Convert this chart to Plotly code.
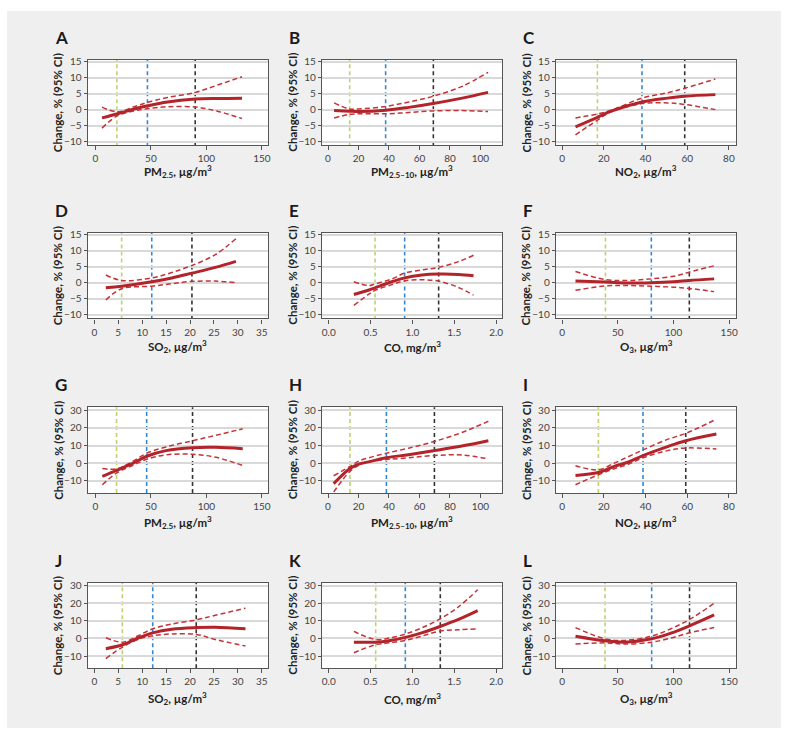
import plotly.graph_objects as go

W, H = 791, 737

# ---------------- data ----------------
letters = list("ABCDEFGHIJKL")
x_titles = [
    "PM<sub>2.5</sub>, µg/m<sup>3</sup>",
    "PM<sub>2.5–10</sub>, µg/m<sup>3</sup>",
    "NO<sub>2</sub>, µg/m<sup>3</sup>",
    "SO<sub>2</sub>, µg/m<sup>3</sup>",
    "CO, mg/m<sup>3</sup>",
    "O<sub>3</sub>, µg/m<sup>3</sup>",
] * 2
y_title = "Change, % (95% CI)"

a_x = [6, 20, 35, 47, 65, 90, 110, 132]
a_est = [-2.6, -1.3, 0.2, 1.2, 2.4, 3.3, 3.5, 3.6]
a_lo = [-5.8, -1.9, -0.4, 0.3, 0.9, 0.8, -0.5, -2.8]
a_hi = [0.8, -0.7, 0.9, 2.3, 3.8, 5.4, 7.7, 10.3]
a_ref = [19.4, 46.9, 89.9]

b_x = [4, 14, 20, 38, 53, 69, 88, 105]
b_est = [-0.3, -0.5, -0.6, -0.2, 0.7, 1.9, 3.6, 5.4]
b_lo = [-2.6, -1.5, -1.3, -1.3, -0.9, -0.4, -0.3, -0.6]
b_hi = [2.1, 0.2, 0.2, 1.0, 2.4, 4.2, 7.3, 11.7]
b_ref = [14.2, 37.8, 69.1]

c_x = [6.4, 17, 23.5, 38.3, 50.6, 58.8, 73.5]
c_est = [-5.4, -2.4, -0.5, 2.4, 3.6, 4.2, 4.7]
c_lo = [-7.9, -3.3, -0.7, 1.9, 2.1, 1.6, 0.0]
c_hi = [-2.6, -1.35, -0.2, 3.6, 5.3, 6.7, 9.6]
c_ref = [16.9, 38.3, 58.8]

d_x = [2.4, 5.7, 12, 16.2, 20.4, 25.3, 29.6]
d_est = [-1.6, -1.1, 0.3, 1.5, 3.0, 4.8, 6.7]
d_lo = [-5.4, -1.9, -1.1, -0.3, 0.4, 0.5, 0.0]
d_hi = [2.4, 0.7, 1.5, 3.2, 5.4, 8.8, 13.8]
d_ref = [5.7, 12.0, 20.4]

e_x = [0.30, 0.48, 0.553, 0.755, 0.907, 1.113, 1.31, 1.55, 1.73]
e_est = [-3.7, -2.3, -1.6, 0.3, 1.5, 2.4, 2.7, 2.6, 2.2]
e_lo = [-7.1, -3.6, -2.4, -0.6, 0.6, 0.9, 0.5, -1.5, -3.9]
e_hi = [0.3, -0.9, -0.4, 1.2, 3.0, 4.0, 4.8, 6.6, 8.6]
e_ref = [0.553, 0.907, 1.313]

f_x = [12, 38.8, 58.9, 80, 100, 114, 136.5]
f_est = [0.5, 0.2, -0.1, 0.0, 0.3, 0.7, 1.2]
f_lo = [-2.4, -1.0, -0.9, -1.1, -1.4, -1.8, -2.8]
f_hi = [3.5, 1.0, 0.7, 1.2, 2.0, 3.3, 5.3]
f_ref = [38.9, 80.1, 114.2]

g_x = [6.3, 19, 34, 46.3, 63.6, 87.5, 108.5, 132.7]
g_est = [-7.6, -4.2, 0.0, 3.9, 7.1, 8.8, 9.0, 8.2]
g_lo = [-12.3, -5.7, -1.2, 2.2, 4.7, 5.0, 3.3, -1.4]
g_hi = [-3.1, -3.3, 1.1, 5.6, 9.2, 12.7, 15.8, 19.5]
g_ref = [19.1, 46.2, 87.5]

h_x = [3.7, 14.4, 20.1, 26.6, 38.2, 52.8, 69.7, 87.8, 105.2]
h_est = [-11.7, -3.1, -0.6, 0.7, 3.0, 4.8, 7.1, 9.7, 12.7]
h_lo = [-16.4, -4.7, -1.2, 0.8, 2.0, 3.0, 4.3, 4.6, 2.4]
h_hi = [-7.2, -1.9, 1.1, 3.0, 5.6, 8.5, 12.3, 17.4, 23.8]
h_ref = [14.4, 38.3, 69.8]

i_x = [6.4, 17.4, 25, 31.5, 38.8, 50.6, 59.3, 74]
i_est = [-7.0, -5.3, -1.9, 0.5, 4.3, 9.4, 12.7, 16.5]
i_lo = [-12.3, -6.6, -3.2, -0.8, 3.0, 7.1, 8.6, 8.0]
i_hi = [-1.5, -3.8, 0.0, 3.5, 7.5, 13.5, 16.9, 25.0]
i_ref = [17.4, 38.8, 59.3]

j_x = [2.4, 5.9, 9.3, 12.2, 16.2, 21.3, 25.3, 31.6]
j_est = [-5.8, -3.6, 0.4, 3.2, 5.3, 6.2, 6.4, 5.5]
j_lo = [-11.5, -4.9, -0.4, 1.5, 2.6, 2.3, -0.6, -4.3]
j_hi = [0.4, -2.1, 1.7, 5.5, 8.2, 10.6, 13.2, 17.2]
j_ref = [5.85, 12.2, 21.3]

k_x = [0.3, 0.56, 0.72, 0.915, 1.11, 1.33, 1.55, 1.78]
k_est = [-2.1, -2.1, -1.3, 0.6, 3.2, 6.8, 10.8, 15.8]
k_lo = [-8.1, -3.6, -2.5, -1.1, 1.3, 4.2, 4.9, 5.5]
k_hi = [4.0, -0.6, 0.2, 2.5, 6.0, 11.1, 18.0, 27.7]
k_ref = [0.561, 0.915, 1.333]

l_x = [12, 38.5, 55.9, 80.4, 97.7, 114.4, 136.5]
l_est = [1.3, -1.3, -2.1, -0.2, 3.0, 7.2, 13.4]
l_lo = [-3.2, -2.5, -3.2, -2.1, 0.2, 3.2, 6.2]
l_hi = [6.2, -0.2, -1.1, 1.3, 5.5, 10.8, 20.0]
l_ref = [38.5, 80.4, 114.4]

panels = [
    (a_x, a_est, a_lo, a_hi, a_ref), (b_x, b_est, b_lo, b_hi, b_ref),
    (c_x, c_est, c_lo, c_hi, c_ref), (d_x, d_est, d_lo, d_hi, d_ref),
    (e_x, e_est, e_lo, e_hi, e_ref), (f_x, f_est, f_lo, f_hi, f_ref),
    (g_x, g_est, g_lo, g_hi, g_ref), (h_x, h_est, h_lo, h_hi, h_ref),
    (i_x, i_est, i_lo, i_hi, i_ref), (j_x, j_est, j_lo, j_hi, j_ref),
    (k_x, k_est, k_lo, k_hi, k_ref), (l_x, l_est, l_lo, l_hi, l_ref),
]

x_ranges = [[-6.9, 155.4], [-3.9, 114.4], [-3.0, 83.5],
            [-1.4, 36.3], [-0.08, 2.075], [-5.6, 156.3]] * 2
x_ticks = [[0, 50, 100, 150], [0, 20, 40, 60, 80, 100], [0, 20, 40, 60, 80],
           [0, 5, 10, 15, 20, 25, 30, 35], [0, 0.5, 1.0, 1.5, 2.0], [0, 50, 100, 150]] * 2
x_fmt = ["", "", "", "", ".1f", ""] * 2
y_ranges = [[-11.2, 15.7]] * 6 + [[-17.0, 31.8]] * 6
y_ticks = [[-10, -5, 0, 5, 10, 15]] * 6 + [[-10, 0, 10, 20, 30]] * 6

# ---------------- styling / layout ----------------
FONT = "Lato, 'Open Sans', sans-serif"
RED = "#b3242a"
RED_CI = "#c4333a"
REF_COLORS = ["#bcd46c", "#3487d2", "#333333"]

col_left = [88, 323.3, 558]
col_w = 181
row_top = [56, 230.5, 406.5, 583.3]
row_h = 86.5
xtitle_off = [26.5, 28.5, 30, 30]

fig = go.Figure()
layout = dict(
    width=W, height=H,
    margin=dict(l=0, r=0, t=0, b=0),
    paper_bgcolor="#eeefee",
    plot_bgcolor="white",
    showlegend=False,
    font=dict(family=FONT, size=10, color="#444"),
    annotations=[], shapes=[],
)

for idx, (xs, est, lo, hi, refs) in enumerate(panels):
    r, c = divmod(idx, 3)
    n = idx + 1
    xa = "x" if n == 1 else f"x{n}"
    ya = "y" if n == 1 else f"y{n}"
    left = col_left[c]
    top = row_top[r]
    bottom = top + row_h
    xdom = [left / W, (left + col_w) / W]
    ydom = [1 - bottom / H, 1 - top / H]

    layout["xaxis" if n == 1 else f"xaxis{n}"] = dict(
        domain=xdom, anchor=ya, range=x_ranges[idx],
        tickmode="array", tickvals=x_ticks[idx], tickformat=x_fmt[idx],
        ticks="outside", ticklen=4, tickwidth=1, tickcolor="#555",
        showgrid=False, zeroline=False,
        showline=True, mirror=True, linecolor="#555", linewidth=1.3,
        tickfont=dict(size=10, color="#444", family=FONT),
    )
    layout["yaxis" if n == 1 else f"yaxis{n}"] = dict(
        domain=ydom, anchor=xa, range=y_ranges[idx],
        tickmode="array", tickvals=y_ticks[idx],
        ticks="outside", ticklen=3, tickwidth=1, tickcolor="#555",
        showgrid=True, gridcolor="#d9d9d9", gridwidth=2.2, zeroline=False,
        showline=True, mirror=True, linecolor="#555", linewidth=1.3,
        tickfont=dict(size=10, color="#444", family=FONT),
    )

    # reference (percentile) vertical lines
    for rv, rc in zip(refs, REF_COLORS):
        layout["shapes"].append(dict(
            type="line", xref=xa, yref=f"{ya} domain",
            x0=rv, x1=rv, y0=0, y1=1, layer="below",
            line=dict(color=rc, width=1.6, dash="4px,3px"),
        ))

    for ys in (lo, hi):
        fig.add_trace(go.Scatter(
            x=xs, y=ys, mode="lines", xaxis=xa, yaxis=ya,
            line=dict(color=RED_CI, width=1.5, dash="5px,3px", shape="spline", smoothing=1.0),
            hoverinfo="skip",
        ))
    fig.add_trace(go.Scatter(
        x=xs, y=est, mode="lines", xaxis=xa, yaxis=ya,
        line=dict(color=RED, width=3, shape="spline", smoothing=1.0),
    ))

    # panel letter
    layout["annotations"].append(dict(
        text=f"<b>{letters[idx]}</b>", xref="paper", yref="paper",
        x=(left - 35) / W, y=1 - (top - 22.5) / H, xanchor="left", yanchor="middle",
        showarrow=False, font=dict(size=17, color="#1a1a1a", family=FONT),
    ))
    # y title
    layout["annotations"].append(dict(
        text=f"<b>{y_title}</b>", xref="paper", yref="paper",
        x=(left - 30) / W, y=1 - (top + row_h / 2) / H, xanchor="center", yanchor="middle",
        textangle=-90, showarrow=False, font=dict(size=11.5, color="#222", family=FONT),
    ))
    # x title
    layout["annotations"].append(dict(
        text=f"<b>{x_titles[idx]}</b>", xref="paper", yref="paper",
        x=(left + col_w / 2) / W, y=1 - (bottom + xtitle_off[r]) / H,
        xanchor="center", yanchor="middle",
        showarrow=False, font=dict(size=11.5, color="#222", family=FONT),
    ))

# white outer border around the gray panel
layout["shapes"].append(dict(
    type="rect", xref="paper", yref="paper", x0=0, x1=1, y0=0, y1=1,
    line=dict(color="white", width=14), fillcolor="rgba(0,0,0,0)", layer="above",
))

fig.update_layout(**layout)
fig.write_html(
    "out.html",
    config={"displayModeBar": False},
    post_script="document.documentElement.style.margin='0';document.body.style.margin='0';document.body.style.overflow='hidden';",
)
